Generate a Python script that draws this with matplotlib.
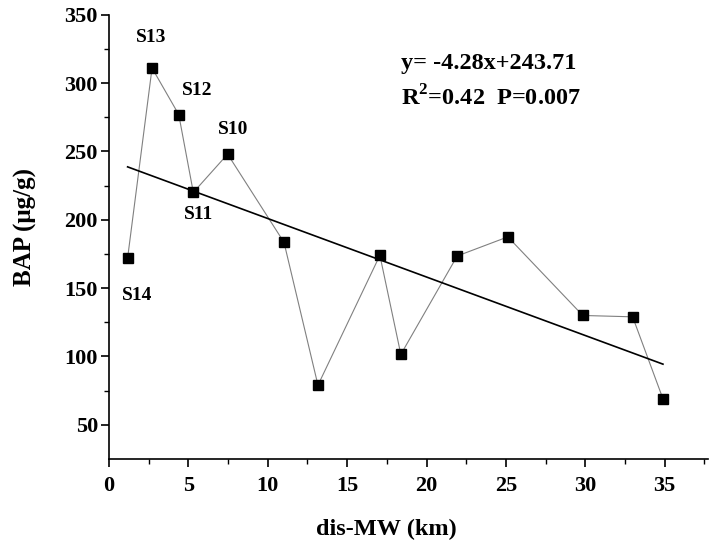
import numpy as np
import matplotlib.pyplot as plt

plt.rcParams['font.family'] = ['Liberation Serif', 'DejaVu Serif']
plt.rcParams['font.weight'] = 'bold'
plt.rcParams['mathtext.fontset'] = 'custom'
plt.rcParams['mathtext.rm'] = 'Liberation Serif'
plt.rcParams['mathtext.bf'] = 'Liberation Serif:bold'

# distance to MW (km) and BAP (ug/g)
dist = [1.17, 2.71, 4.39, 5.31, 7.47, 11.02, 13.16, 17.06, 18.38, 21.93, 25.12, 29.84, 32.98, 34.89]
bap = [172, 311, 277, 220, 248, 183.5, 79, 174, 101.5, 173.5, 187.5, 130, 129, 69]

# labelled sites: index into the data, label, offset in points
site_idx = [0, 1, 2, 3, 4]
site_names = ['S14', 'S13', 'S12', 'S11', 'S10']
site_offsets = [(7, -27), (-1, 22), (13, 17), (4, -16), (4, 18)]

slope, intercept = -4.28, 243.71
eq_text = 'y= -4.28x+243.71'
stat_text = r'R$^{\mathbf{2}}$=0.42  P=0.007'

fig = plt.figure(figsize=(7.14, 5.45), dpi=100)
ax = fig.add_axes([0.1527, 0.1578, 0.8383, 0.8152])

ax.plot(dist, bap, color='#808080', lw=0.8, zorder=2)
ax.plot(dist, bap, 's', color='black', ms=7.5, zorder=3)

xfit = np.array([min(dist), max(dist)])
ax.plot(xfit, slope * xfit + intercept, color='black', lw=1.2, zorder=2)

for i, name, off in zip(site_idx, site_names, site_offsets):
    ax.annotate(name, (dist[i], bap[i]), xytext=off, textcoords='offset points',
                ha='center', va='center', fontsize=14, fontweight='bold')

ax.text(0.488, 0.8906, eq_text, transform=ax.transAxes, fontsize=17.5,
        fontweight='bold', va='center', ha='left')
ax.text(0.488, 0.812, stat_text, transform=ax.transAxes, fontsize=17.5,
        fontweight='bold', va='center', ha='left')

ax.set_xlim(0, 37.7)
ax.set_ylim(25, 350)
ax.set_xticks([0, 5, 10, 15, 20, 25, 30, 35])
ax.set_yticks([50, 100, 150, 200, 250, 300, 350])
ax.set_xticks(np.arange(2.5, 37.6, 5), minor=True)
ax.set_yticks(np.arange(75, 326, 50), minor=True)

ax.spines['top'].set_visible(False)
ax.spines['right'].set_visible(False)
ax.spines['left'].set_linewidth(1.2)
ax.spines['bottom'].set_linewidth(1.2)
ax.tick_params(which='major', direction='out', length=6, width=1.2, labelsize=16)
ax.tick_params(axis='x', which='major', pad=6)
ax.tick_params(axis='y', which='major', pad=2)
ax.tick_params(which='minor', direction='out', length=3.5, width=1.0)
for lab in ax.get_xticklabels() + ax.get_yticklabels():
    lab.set_fontweight('bold')

ax.set_xlabel('dis-MW (km)', fontsize=17.5, fontweight='bold')
ax.set_ylabel('BAP (μg/g)', fontsize=18, fontweight='bold')
ax.xaxis.set_label_coords(0.463, -0.135)
ax.yaxis.set_label_coords(-0.120, 0.522)

fig.savefig('out.png', dpi=100)
